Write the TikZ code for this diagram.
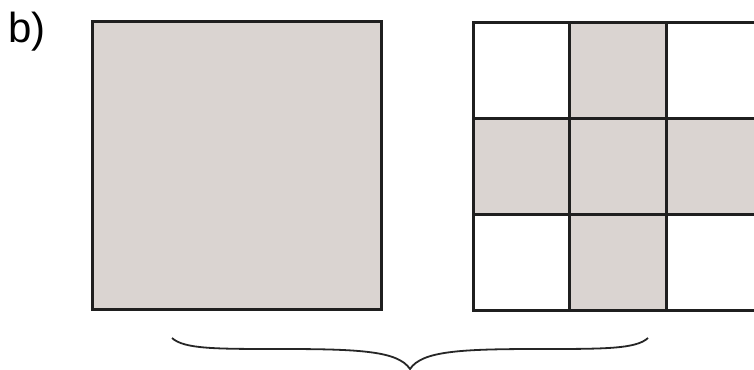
\documentclass[tikz,border=0pt]{standalone}
\usepackage{fontspec}
\setmainfont{Liberation Sans}
\definecolor{shade}{RGB}{218,212,209}
\begin{document}
\begin{tikzpicture}[x=1pt,y=1pt,
  edge/.style={draw=black!88,line width=3pt},
  cell/.style={edge,minimum width=96.5pt,minimum height=96pt,inner sep=0pt,outer sep=0pt,anchor=south west},
  filled/.style={cell,fill=shade},
  empty/.style={cell,fill=white},
  bigsq/.style={edge,fill=shade,minimum width=289pt,minimum height=288pt,inner sep=0pt,anchor=south west},
  bracestyle/.style={draw=black!85,line width=1.8pt}]
\useasboundingbox (0,0) rectangle (754,369);
\clip (0,0) rectangle (754,369);
\node[font=\fontsize{42}{42}\selectfont,anchor=base west,inner sep=0pt] (lbl) at (8,326) {b)};
\node[bigsq] (big) at (90.5,58) {};
% grid
\node[empty]  (c11) at (473,250) {};
\node[filled] (c12) at (569.5,250) {};
\node[empty]  (c13) at (666,250) {};
\node[filled] (c21) at (473,154) {};
\node[filled] (c22) at (569.5,154) {};
\node[filled] (c23) at (666,154) {};
\node[empty]  (c31) at (473,58) {};
\node[filled] (c32) at (569.5,58) {};
\node[empty]  (c33) at (666,58) {};
% brace
\coordinate (bl) at (172,31);
\coordinate (bt) at (410,0);
\coordinate (br) at (648,31);
\draw[bracestyle] (bl) .. controls (184,20) and (215,20) .. (280,20)
  .. controls (360,20) and (398,18) .. (bt)
  .. controls (422,18) and (460,20) .. (540,20)
  .. controls (605,20) and (636,20) .. (br);
\end{tikzpicture}
\end{document}
